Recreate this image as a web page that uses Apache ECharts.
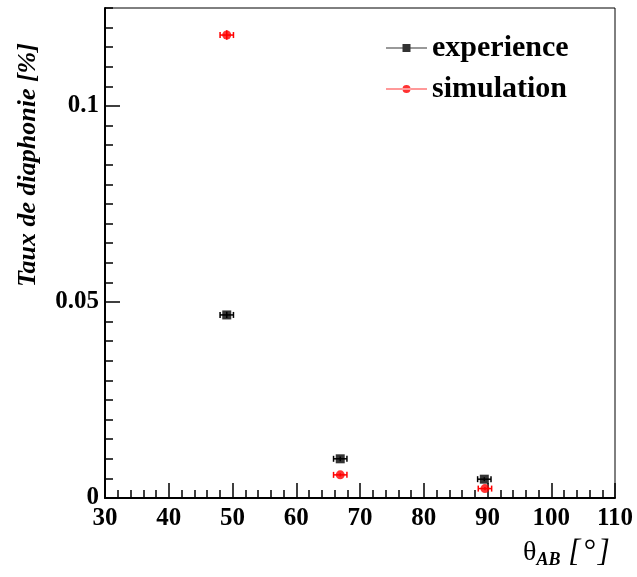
<!DOCTYPE html>
<html>
<head>
<meta charset="utf-8">
<script src="https://cdn.jsdelivr.net/npm/echarts@6/dist/echarts.min.js"></script>
<style>html,body{margin:0;padding:0;background:#fff}#c{width:637px;height:577px}</style>
</head>
<body>
<div id="c"></div>
<script>
// Data
const seriesNames = ['experience', 'simulation'];
const expX = [49.1, 66.9, 89.5];
const expY = [0.0467, 0.0100, 0.0048];
const expXErr = [1.05, 1.05, 1.05];
const expYErr = [0.0008, 0.0006, 0.0005];
const simX = [49.1, 66.9, 89.6];
const simY = [0.1181, 0.0059, 0.0024];
const simXErr = [1.05, 1.05, 1.05];
const simYErr = [0.0012, 0.0004, 0.0004];
const xTicks = [30, 40, 50, 60, 70, 80, 90, 100, 110];
const yTicks = [0, 0.05, 0.1];

const FONT = '"Liberation Serif", "DejaVu Serif", serif';

function pts(xs, ys, xe, ye) { return xs.map((x, i) => [x, ys[i], xe[i], ye[i]]); }

function errRender(color) {
  return function (params, api) {
    const x = api.value(0), y = api.value(1), xe = api.value(2), ye = api.value(3);
    const l = api.coord([x - xe, y]), r = api.coord([x + xe, y]);
    const t = api.coord([x, y + ye]), b = api.coord([x, y - ye]);
    const st = { stroke: color, lineWidth: 1.5 };
    const cap = 3;
    return {
      type: 'group',
      children: [
        { type: 'line', shape: { x1: l[0], y1: l[1], x2: r[0], y2: r[1] }, style: st },
        { type: 'line', shape: { x1: l[0], y1: l[1] - cap, x2: l[0], y2: l[1] + cap }, style: st },
        { type: 'line', shape: { x1: r[0], y1: r[1] - cap, x2: r[0], y2: r[1] + cap }, style: st },
        { type: 'line', shape: { x1: t[0], y1: t[1], x2: b[0], y2: b[1] }, style: st }
      ]
    };
  };
}

const chart = echarts.init(document.getElementById('c'), null, { renderer: 'canvas' });
chart.setOption({
  animation: false,
  backgroundColor: '#fff',
  grid: { left: 105, top: 8, right: 22, bottom: 79, show: true, borderColor: '#000', borderWidth: 1, backgroundColor: 'transparent' },
  legend: {
    orient: 'vertical', left: 386, top: 33, padding: 0, itemGap: 11, itemWidth: 41, itemHeight: 8,
    textStyle: { fontFamily: FONT, fontWeight: 'bold', fontSize: 30, color: '#000' },
    data: [
      { name: seriesNames[0], icon: 'path://M0,3.4h41v1.2h-41z M16.5,0h8v8h-8z' },
      { name: seriesNames[1], icon: 'path://M0,3.4h41v1.2h-41z M24.5,4a4,4 0 1,0 -8,0a4,4 0 1,0 8,0z' }
    ]
  },
  xAxis: {
    type: 'value', min: xTicks[0], max: xTicks[xTicks.length - 1], interval: 10,
    axisLine: { show: true, onZero: false, lineStyle: { color: '#000', width: 2 } },
    axisTick: { show: true, inside: true, length: 15, lineStyle: { color: '#000', width: 1.5 } },
    minorTick: { show: true, splitNumber: 5, length: 8, lineStyle: { color: '#000', width: 1.5 } },
    splitLine: { show: false },
    axisLabel: { margin: 8, fontFamily: FONT, fontWeight: 'bold', fontSize: 25, color: '#000' }
  },
  yAxis: [
    {
      type: 'value', min: 0, max: 0.125, interval: 0.05,
      axisLine: { show: true, onZero: false, lineStyle: { color: '#000', width: 2 } },
      axisTick: { show: true, inside: true, length: 15, customValues: yTicks, lineStyle: { color: '#000', width: 1.5 } },
      splitLine: { show: false },
      axisLabel: {
        margin: 6, fontFamily: FONT, fontWeight: 'bold', fontSize: 25, color: '#000', customValues: yTicks,
        formatter: v => { const m = yTicks.find(t => Math.abs(t - v) < 1e-9); return m === undefined ? '' : String(m); }
      }
    },
    {
      type: 'value', position: 'left', min: 0, max: 0.125, interval: 0.005,
      axisLine: { show: false },
      axisTick: { show: true, inside: true, length: 8, lineStyle: { color: '#000', width: 1.5 } },
      splitLine: { show: false },
      axisLabel: { show: false }
    }
  ],
  graphic: [
    {
      type: 'text', x: 28, y: 165, rotation: Math.PI / 2,
      style: { text: 'Taux de diaphonie [%]', fontFamily: FONT, fontWeight: 'bold', fontStyle: 'italic', fontSize: 26, fill: '#000', align: 'center', verticalAlign: 'middle' }
    },
    {
      type: 'text', left: 523, top: 537,
      style: {
        text: '{t|θ}{s|AB}{u| [\u200a°\u200a]}',
        rich: {
          t: { fontFamily: FONT, fontSize: 28, color: '#000' },
          s: { fontFamily: FONT, fontSize: 18, fontWeight: 'bold', fontStyle: 'italic', color: '#000', padding: [16, 0, 0, 0] },
          u: { fontFamily: FONT, fontSize: 31, fontStyle: 'italic', color: '#000' }
        }
      }
    }
  ],
  series: [
    { type: 'custom', name: 'errExp', silent: true, renderItem: errRender('#000'), data: pts(expX, expY, expXErr, expYErr), z: 2 },
    { type: 'custom', name: 'errSim', silent: true, renderItem: errRender('#ff0000'), data: pts(simX, simY, simXErr, simYErr), z: 2 },
    { type: 'scatter', name: seriesNames[0], symbol: 'rect', symbolSize: 9, itemStyle: { color: '#000' }, data: expX.map((x, i) => [x, expY[i]]), z: 3 },
    { type: 'scatter', name: seriesNames[1], symbol: 'circle', symbolSize: 9, itemStyle: { color: '#ff0000' }, data: simX.map((x, i) => [x, simY[i]]), z: 3 }
  ]
});
</script>
</body>
</html>
